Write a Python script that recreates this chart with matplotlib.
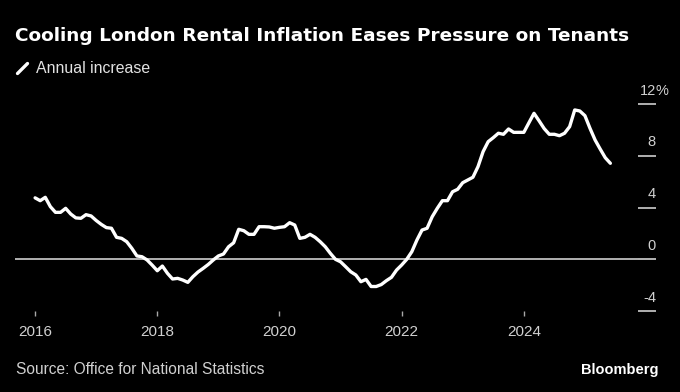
import matplotlib
matplotlib.use("Agg")
import matplotlib.pyplot as plt
from matplotlib.lines import Line2D
import numpy as np

# ---------------- data ----------------
start_year = 2016
values = [
    4.75, 4.53, 4.79, 4.07, 3.63, 3.63, 3.94, 3.50, 3.20, 3.17, 3.45, 3.35,   # 2016
    3.00, 2.70, 2.45, 2.40, 1.70, 1.62, 1.36, 0.85, 0.26, 0.20, -0.05, -0.45,  # 2017
    -0.88, -0.52, -1.08, -1.52, -1.47, -1.60, -1.78, -1.34, -0.98, -0.70, -0.40, -0.05,  # 2018
    0.26, 0.41, 0.97, 1.28, 2.32, 2.21, 1.93, 1.93, 2.52, 2.52, 2.50, 2.40,   # 2019
    2.47, 2.52, 2.83, 2.65, 1.62, 1.70, 1.93, 1.70, 1.36, 0.97, 0.46, 0.00,   # 2020
    -0.19, -0.57, -0.96, -1.21, -1.73, -1.55, -2.10, -2.10, -1.95, -1.65, -1.39, -0.83,  # 2021
    -0.44, 0.00, 0.59, 1.49, 2.26, 2.40, 3.29, 3.94, 4.53, 4.53, 5.22, 5.41,  # 2022
    5.92, 6.13, 6.34, 7.16, 8.32, 9.09, 9.40, 9.74, 9.66, 10.07, 9.81, 9.81,  # 2023
    9.81, 10.55, 11.28, 10.70, 10.10, 9.66, 9.66, 9.55, 9.74, 10.25, 11.54, 11.46,  # 2024
    11.10, 10.12, 9.22, 8.52, 7.85, 7.42,                                      # 2025
]
x_ticks = [2016, 2018, 2020, 2022, 2024]
x_tick_labels = ["2016", "2018", "2020", "2022", "2024"]
y_ticks = [12, 8, 4, 0, -4]
y_tick_labels = ["12%", "8", "4", "0", "-4"]

title = "Cooling London Rental Inflation Eases Pressure on Tenants"
legend_label = "Annual increase"
source = "Source: Office for National Statistics"
brand = "Bloomberg"

# ---------------- figure ----------------
W, H = 680, 392
fig = plt.figure(figsize=(W / 100, H / 100), dpi=100, facecolor="black")

def fx(px):
    return px / W

def fy(py):
    return 1 - py / H

ax_left, ax_right, ax_top, ax_bottom = 15, 656, 104.0, 311.1
ax = fig.add_axes([fx(ax_left), fy(ax_bottom), fx(ax_right - ax_left), (ax_bottom - ax_top) / H])
ax.set_facecolor("black")
for s in ax.spines.values():
    s.set_visible(False)

px_per_year = 61.09
x0_px = 35.1
ax.set_xlim(2016 - (x0_px - ax_left) / px_per_year, 2016 + (ax_right - x0_px) / px_per_year)
ax.set_ylim(-4, 12)

xs = start_year + np.arange(len(values)) / 12.0

ax.axhline(0, color="#cfcfcf", lw=1.2, zorder=1)
ax.plot(xs, values, color="white", lw=2.4, solid_joinstyle="round", solid_capstyle="round", zorder=3)

regular = "Liberation Sans"
label_color = "#d0d0d0"

# x ticks
ax.set_xticks(x_ticks)
ax.set_xticklabels(x_tick_labels, fontfamily=regular, fontsize=11, color=label_color)
ax.tick_params(axis="x", direction="out", length=3.8, width=1.0, color="#a8a8a8", pad=6.5)

# y ticks (right, inside)
ax.yaxis.tick_right()
ax.set_yticks(y_ticks)
ax.set_yticklabels([])
ax.tick_params(axis="y", direction="in", length=13, width=1.4, color="#b0b0b0", right=True, left=False)

ytrans = ax.get_yaxis_transform()
for v, lab in zip(y_ticks, y_tick_labels):
    num = lab.rstrip("%")
    ax.text(1.0, v + 0.72, num, transform=ytrans, ha="right", va="baseline",
            fontfamily=regular, fontsize=10.5, color=label_color)
    if lab.endswith("%"):
        ax.text(1.0, v + 0.72, "%", transform=ytrans, ha="left", va="baseline",
                fontfamily=regular, fontsize=10.5, color=label_color)

# title & legend
fig.text(fx(15), fy(41), title, ha="left", va="baseline", fontfamily="DejaVu Sans",
         fontweight="bold", fontsize=13.3, color="white")
fig.add_artist(Line2D([fx(17.5), fx(27.5)], [fy(73.5), fy(63.5)], color="white", lw=2.4,
                      solid_capstyle="round"))
fig.text(fx(36.5), fy(73.3), legend_label, ha="left", va="baseline", fontfamily=regular,
         fontsize=11.4, color="#e2e2e2")

# footer
fig.text(fx(16), fy(374), source, ha="left", va="baseline", fontfamily=regular,
         fontsize=11.2, color=label_color)
fig.text(fx(658), fy(374), brand, ha="right", va="baseline", fontfamily=regular,
         fontweight="bold", fontsize=10.5, color="white")

fig.savefig("out.png", dpi=100, facecolor="black")
